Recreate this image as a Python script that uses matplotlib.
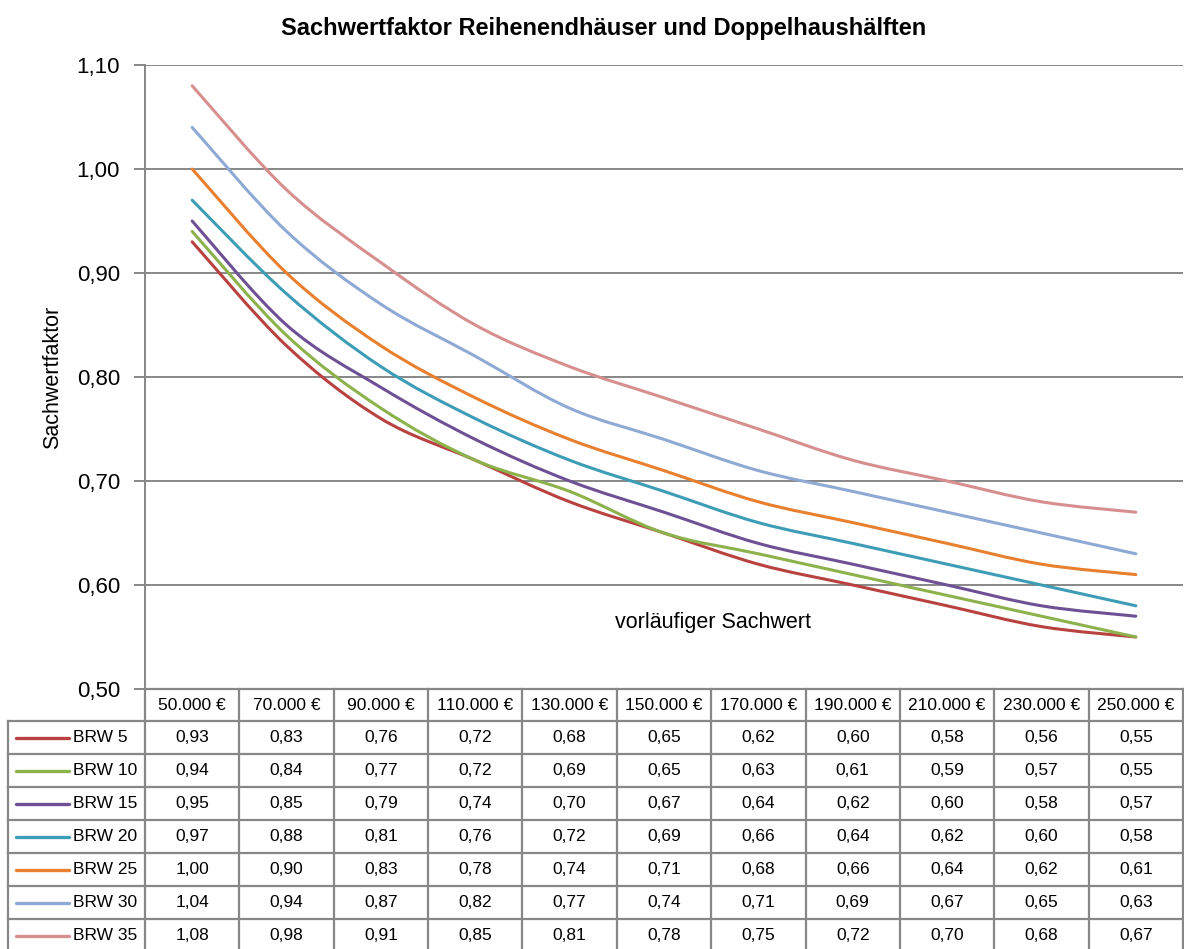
import matplotlib.pyplot as plt
import numpy as np
from matplotlib.path import Path
from matplotlib.patches import PathPatch

# Sachwertfaktoren je Bodenrichtwert (BRW) und vorläufigem Sachwert
sachwerte = [50000, 70000, 90000, 110000, 130000, 150000, 170000, 190000, 210000, 230000, 250000]
brw_labels = ['BRW 5', 'BRW 10', 'BRW 15', 'BRW 20', 'BRW 25', 'BRW 30', 'BRW 35']
brw_5 = [0.93, 0.83, 0.76, 0.72, 0.68, 0.65, 0.62, 0.60, 0.58, 0.56, 0.55]
brw_10 = [0.94, 0.84, 0.77, 0.72, 0.69, 0.65, 0.63, 0.61, 0.59, 0.57, 0.55]
brw_15 = [0.95, 0.85, 0.79, 0.74, 0.70, 0.67, 0.64, 0.62, 0.60, 0.58, 0.57]
brw_20 = [0.97, 0.88, 0.81, 0.76, 0.72, 0.69, 0.66, 0.64, 0.62, 0.60, 0.58]
brw_25 = [1.00, 0.90, 0.83, 0.78, 0.74, 0.71, 0.68, 0.66, 0.64, 0.62, 0.61]
brw_30 = [1.04, 0.94, 0.87, 0.82, 0.77, 0.74, 0.71, 0.69, 0.67, 0.65, 0.63]
brw_35 = [1.08, 0.98, 0.91, 0.85, 0.81, 0.78, 0.75, 0.72, 0.70, 0.68, 0.67]
series = [brw_5, brw_10, brw_15, brw_20, brw_25, brw_30, brw_35]
colors = ['#B8423F', '#8DB24C', '#6E5195', '#3E9DB6', '#E8802F', '#8FA9D5', '#D68F8E']

plt.rcParams['font.family'] = ['Liberation Sans', 'DejaVu Sans']
GRID = '#878787'

W, H = 1184, 949
fig = plt.figure(figsize=(W / 100, H / 100), dpi=100)

# Plotbereich in Pixeln
left, right, top, bottom = 145, 1183, 65, 689
ax = fig.add_axes([left / W, 1 - bottom / H, (right - left) / W, (bottom - top) / H])


def smooth_path(xs, ys):
    # geglättete Linie (Bezier mit Catmull-Rom-Kontrollpunkten)
    pts = np.column_stack([xs, ys]).astype(float)
    verts = [pts[0]]
    codes = [Path.MOVETO]
    n = len(pts)
    for i in range(n - 1):
        p0 = pts[max(i - 1, 0)]
        p1 = pts[i]
        p2 = pts[i + 1]
        p3 = pts[min(i + 2, n - 1)]
        c1 = p1 + (p2 - p0) / 6
        c2 = p2 - (p3 - p1) / 6
        verts += [c1, c2, p2]
        codes += [Path.CURVE4] * 3
    return Path(verts, codes)


x = np.arange(len(sachwerte))
for vals, c in zip(series, colors):
    ax.add_patch(PathPatch(smooth_path(x, vals), facecolor='none', edgecolor=c,
                           lw=2.2, capstyle='round', zorder=3))

ax.set_xlim(-0.5, len(sachwerte) - 0.5)
ax.set_ylim(0.50, 1.10)
yt = np.arange(0.50, 1.101, 0.10)
ax.set_yticks(yt)
ax.set_yticklabels([f'{v:.2f}'.replace('.', ',') for v in yt], fontsize=16)
ax.set_xticks([])
ax.grid(axis='y', color=GRID, lw=1.4)
ax.set_axisbelow(True)
for s in ['top', 'right', 'bottom']:
    ax.spines[s].set_visible(False)
ax.spines['left'].set_color(GRID)
ax.spines['left'].set_linewidth(1.4)
ax.tick_params(axis='y', length=8, width=1.4, color=GRID, pad=10)
ax.set_ylabel('Sachwertfaktor', fontsize=15.5, labelpad=10)
ax.text(0.547, 0.107, 'vorläufiger Sachwert', transform=ax.transAxes,
        ha='center', va='center', fontsize=15.5)

fig.suptitle('Sachwertfaktor Reihenendhäuser und Doppelhaushälften',
             x=604 / W, y=1 - 28 / H, va='center', fontsize=17, fontweight='bold')

# Datentabelle unter dem Diagramm
tab = fig.add_axes([0, 0, 1, 1])
tab.set_xlim(0, W)
tab.set_ylim(H, 0)
tab.axis('off')

ncol = len(sachwerte)
colw = (right - left) / ncol
row_h = 33.0
header_top = bottom
rows_top = bottom + 32
table_left = 8
lw_t = 1.6

# Kopfzeile und Gitter
tab.plot([left, right], [header_top, header_top], color=GRID, lw=lw_t)
for j in range(ncol + 1):
    xj = left + j * colw
    tab.plot([xj, xj], [header_top, H], color=GRID, lw=lw_t)
tab.plot([table_left, table_left], [rows_top, H], color=GRID, lw=lw_t)
for i in range(len(series) + 1):
    yi = rows_top + i * row_h
    tab.plot([table_left, right], [yi, yi], color=GRID, lw=lw_t)

for j, v in enumerate(sachwerte):
    label = f'{v:,}'.replace(',', '.') + ' €'
    tab.text(left + (j + 0.5) * colw, header_top + 17, label,
             ha='center', va='center', fontsize=12.5)

for i, (name, vals, c) in enumerate(zip(brw_labels, series, colors)):
    yc = rows_top + (i + 0.5) * row_h
    tab.plot([16, 69], [yc, yc], color=c, lw=2.4, solid_capstyle='round')
    tab.text(73, yc, name, ha='left', va='center', fontsize=12.5)
    for j, v in enumerate(vals):
        tab.text(left + (j + 0.5) * colw, yc, f'{v:.2f}'.replace('.', ','),
                 ha='center', va='center', fontsize=12.5)

fig.savefig('out.png', dpi=100)
